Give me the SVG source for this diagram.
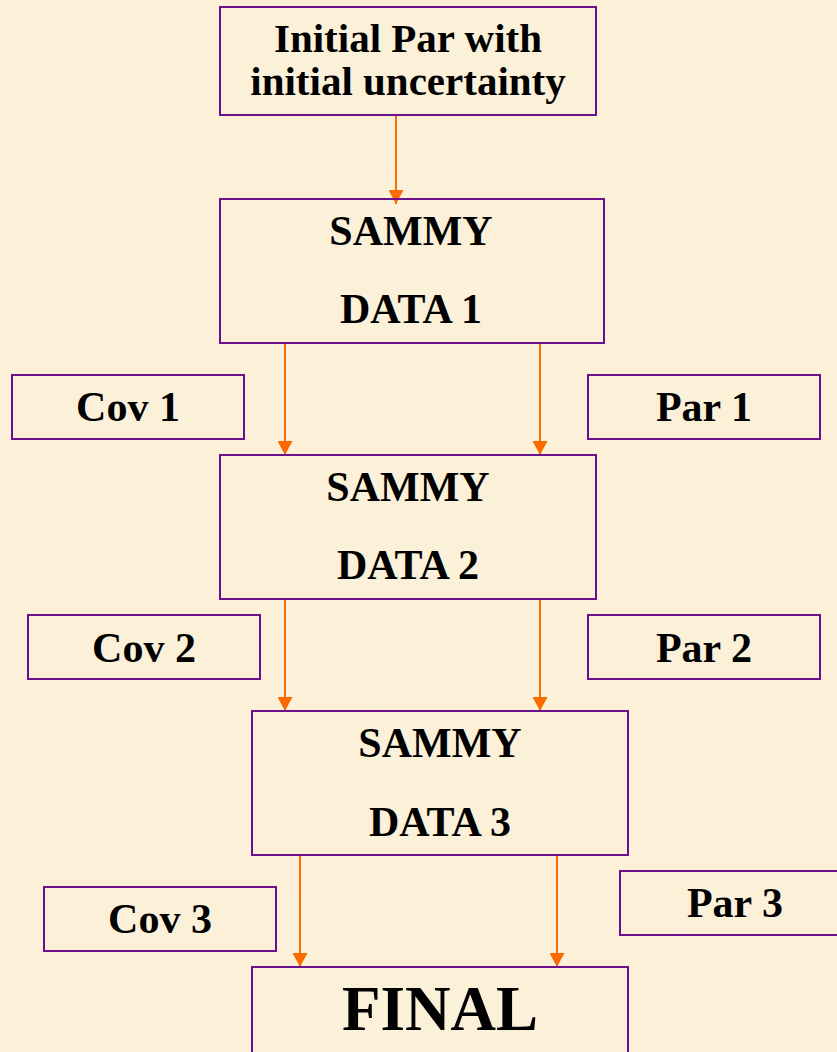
<svg xmlns="http://www.w3.org/2000/svg" width="837" height="1052" viewBox="0 0 837 1052">
<style>
.box{fill:none;stroke:#6E0F8E;stroke-width:2}
.t{font-family:"Liberation Serif","Times New Roman",serif;font-weight:bold;font-size:42px;fill:#000;text-anchor:middle}
.tt{font-size:41px}
.big{font-size:63px}
.c{stroke:#FF6A00;stroke-width:2;fill:none}
</style>
<defs>
<marker id="ah" markerWidth="14" markerHeight="15" refX="14" refY="7.5" orient="auto" markerUnits="userSpaceOnUse" viewBox="0 0 14 15">
<path d="M0,0 L14,7.5 L0,15 Z" fill="#FF6A00"/>
</marker>
<filter id="tex" x="0" y="0" width="100%" height="100%">
<feTurbulence type="fractalNoise" baseFrequency="0.02" numOctaves="3" seed="4"/>
<feColorMatrix type="matrix" values="0 0 0 0 0.93  0 0 0 0 0.86  0 0 0 0 0.70  0 0 0 0.35 -0.05"/>
</filter>
</defs>
<rect width="837" height="1052" fill="#FCF0D8"/>
<rect width="837" height="1052" filter="url(#tex)"/>
<g id="connectors">
<path class="c" d="M396,116 V204" marker-end="url(#ah)"/>
<path class="c" d="M285,343 V455" marker-end="url(#ah)"/>
<path class="c" d="M540,343 V455" marker-end="url(#ah)"/>
<path class="c" d="M285,599 V711" marker-end="url(#ah)"/>
<path class="c" d="M540,599 V711" marker-end="url(#ah)"/>
<path class="c" d="M300,855 V967" marker-end="url(#ah)"/>
<path class="c" d="M557,855 V967" marker-end="url(#ah)"/>
</g>
<g id="initial">
<rect class="box" x="220" y="7" width="376" height="108"/>
<text class="t tt" x="408" y="52">Initial Par with</text>
<text class="t tt" x="408" y="95">initial uncertainty</text>
</g>
<g id="sammy1">
<rect class="box" x="220" y="199" width="384" height="144"/>
<text class="t" x="411" y="245">SAMMY</text>
<text class="t" x="411" y="323">DATA 1</text>
</g>
<g id="cov1">
<rect class="box" x="12" y="375" width="232" height="64"/>
<text class="t" x="128" y="421">Cov 1</text>
</g>
<g id="par1">
<rect class="box" x="588" y="375" width="232" height="64"/>
<text class="t" x="704" y="421">Par 1</text>
</g>
<g id="sammy2">
<rect class="box" x="220" y="455" width="376" height="144"/>
<text class="t" x="408" y="501">SAMMY</text>
<text class="t" x="408" y="579">DATA 2</text>
</g>
<g id="cov2">
<rect class="box" x="28" y="615" width="232" height="64"/>
<text class="t" x="144" y="662">Cov 2</text>
</g>
<g id="par2">
<rect class="box" x="588" y="615" width="232" height="64"/>
<text class="t" x="704" y="662">Par 2</text>
</g>
<g id="sammy3">
<rect class="box" x="252" y="711" width="376" height="144"/>
<text class="t" x="440" y="757">SAMMY</text>
<text class="t" x="440" y="836">DATA 3</text>
</g>
<g id="cov3">
<rect class="box" x="44" y="887" width="232" height="64"/>
<text class="t" x="160" y="933">Cov 3</text>
</g>
<g id="par3">
<rect class="box" x="620" y="871" width="232" height="64"/>
<text class="t" x="735" y="917">Par 3</text>
</g>
<g id="final">
<rect class="box" x="252" y="967" width="376" height="100"/>
<text class="t big" x="440" y="1030">FINAL</text>
</g>
</svg>
